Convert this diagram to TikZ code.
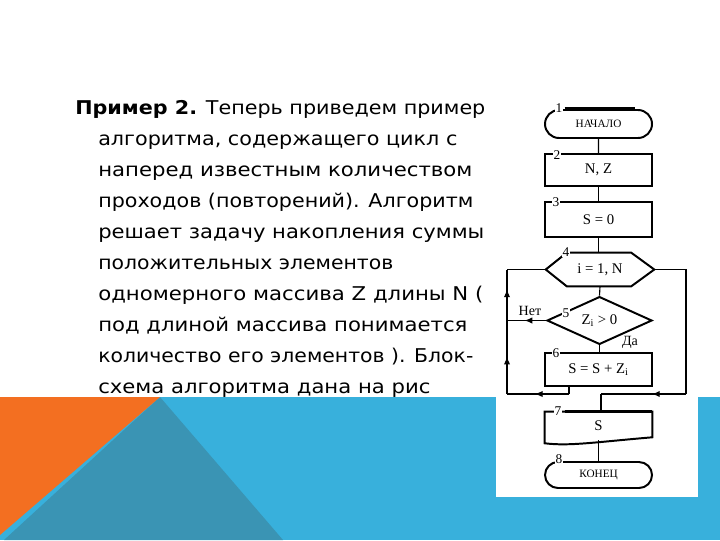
\documentclass[tikz,border=0pt]{standalone}
\usepackage{fontspec}
\usepackage{graphicx}
\setmainfont{DejaVu Sans}
\newfontfamily\fcfont{Liberation Serif}
\usetikzlibrary{shapes.geometric,shapes.misc,arrows.meta,decorations.markings,calc}
\definecolor{bandblue}{HTML}{38B0DC}
\definecolor{bandteal}{HTML}{3A94B4}
\definecolor{bandorange}{HTML}{F36F21}
\begin{document}
\begin{tikzpicture}[x=0.025cm,y=-0.025cm,
 txt/.style={anchor=base west,inner sep=0pt,font=\fontsize{13.5}{16}\selectfont},
 blk/.style={draw,line width=1.4pt,minimum width=107*0.025cm,inner sep=0pt,font=\fcfont\fontsize{10.5}{12}\selectfont},
 term/.style={blk,rounded rectangle,font=\fcfont\fontsize{8}{9}\selectfont},
 plain/.style={inner sep=0pt,font=\fcfont\fontsize{10.5}{12}\selectfont},
 num/.style={fill=white,inner sep=0.6pt,font=\fcfont\fontsize{9.5}{10}\selectfont},
 lbl/.style={inner sep=0pt,font=\fcfont\fontsize{10}{11}\selectfont},
 lnk/.style={line width=0.8pt},
 outl/.style={line width=1.4pt},
 arrtip/.tip={Latex[length=5.5pt,width=4.5pt]},
 midarr/.style={decoration={markings,mark=at position #1 with {\arrow{arrtip}}},postaction={decorate}},
]
\useasboundingbox (0,0) rectangle (720,540);
\fill[white] (0,0) rectangle (720,540);
\fill[bandblue] (0,397) rectangle (720,540);
\fill[bandteal] (160,397) -- (283,540) -- (4,540) -- cycle;
\fill[bandorange] (0,397) -- (160,397) -- (0,535) -- cycle;
\fill[white] (496,95) rectangle (698,497);

% text
\node[txt] (t1) at (75,114) {\resizebox{10.25cm}{\height}{\textbf{Пример 2.} Теперь приведем пример}};
\node[txt] (t2) at (98,145) {\resizebox{8.975cm}{\height}{алгоритма, содержащего цикл с}};
\node[txt] (t3) at (98,176) {\resizebox{9.35cm}{\height}{наперед известным количеством}};
\node[txt] (t4) at (98,207) {\resizebox{9.375cm}{\height}{проходов (повторений). Алгоритм}};
\node[txt] (t5) at (98,238) {\resizebox{9.65cm}{\height}{решает задачу накопления суммы}};
\node[txt] (t6) at (98,269) {\resizebox{7.375cm}{\height}{положительных элементов}};
\node[txt] (t7) at (98,300) {\resizebox{9.625cm}{\height}{одномерного массива Z длины N (}};
\node[txt] (t8) at (98,331) {\resizebox{9.225cm}{\height}{под длиной массива понимается}};
\node[txt] (t9) at (98,362) {\resizebox{9.375cm}{\height}{количество его элементов ). Блок-}};
\node[txt] (t10) at (98,393) {\resizebox{8.3cm}{\height}{схема алгоритма дана на рис}};

% flowchart blocks
\node[term,minimum height=28*0.025cm] (n1) at (598.5,124) {НАЧАЛО};
\draw[line width=2.2pt] ($(n1.north)+(-34,0)$) -- ($(n1.north)+(36,0)$);
\node[blk,minimum height=32*0.025cm] (n2) at (598.5,170) {N, Z};
\node[blk,minimum height=35*0.025cm] (n3) at (598.5,219.5) {S = 0};
\node[plain,minimum width=108*0.025cm,minimum height=33*0.025cm] (n4) at (600,269.5) {i = 1, N};
\draw[outl] (n4.west) -- ($(n4.north west)+(21,0)$) -- ($(n4.north east)+(-23,0)$) -- (n4.east) -- ($(n4.south east)+(-23,0)$) -- ($(n4.south west)+(21,0)$) -- cycle;
\node[blk,diamond,minimum width=105*0.025cm,minimum height=33*0.025cm] (n5) at (599.5,320.5) {Z\textsubscript{i} > 0};
\node[blk,minimum height=33*0.025cm] (n6) at (598.5,369.5) {S = S + Z\textsubscript{i}};
\node[plain,minimum width=107*0.025cm,minimum height=28*0.025cm] (n7) at (598.5,426) {S};
\draw[outl] (n7.north west) -- (n7.north east) -- ($(n7.south east)+(0,-3)$) .. controls ($(n7.south)+(-5,2)$) and ($(n7.south west)+(25,6)$) .. ($(n7.south west)+(0,3)$) -- cycle;
\draw[line width=2.2pt] ($(n7.north west)+(20,0)$) -- (n7.north east);
\node[term,minimum height=26*0.025cm] (n8) at (598.5,475) {КОНЕЦ};

% numbers
\node[num] (k1) at (559,108) {1};
\node[num] (k2) at (557,155) {2};
\node[num] (k3) at (556,202) {3};
\node[num] (k4) at (566,252) {4};
\node[num] (k5) at (566,313) {5};
\node[num] (k6) at (556,353) {6};
\node[num] (k7) at (558,411) {7};
\node[num] (k8) at (559,459) {8};

% connectors
\draw[lnk] (n1) -- (n2);
\draw[lnk] (n2) -- (n3);
\draw[lnk] (n3.south) -- (n3.south |- n4.north);
\draw[lnk] (n4.south) -- (n5.north);
\draw[lnk] (n5.south) -- (n5.south |- n6.north);
\node[lbl] (da) at (630,342) {Да};
\coordinate (jn) at (507,320.5);
\draw[lnk,midarr=0.55] (n5.west) -- (jn);
\node[lbl] (net) at (530,311) {Нет};
\coordinate (a1) at (569,394);
\coordinate (lb) at (507,394);
\coordinate (lt) at (507,269.5);
\draw[lnk] (n6.south -| a1) -- (a1);
\draw[lnk,midarr=0.55] (a1) -- (lb);
\draw[lnk,decoration={markings,mark=at position 0.3 with {\arrow{arrtip}},mark=at position 0.84 with {\arrow{arrtip}}},postaction={decorate}] (lb) -- (lt);
\draw[lnk] (lt) -- (n4.west);
\coordinate (r1) at (686,269.5);
\coordinate (r2) at (686,394);
\coordinate (r3) at (601,394);
\draw[lnk] (n4.east) -- (r1) -- (r2);
\draw[lnk,midarr=0.4] (r2) -- (r3);
\draw[lnk] (r3) -- (r3 |- n7.north);
\draw[lnk] (n7.south) -- (n7.south |- n8.north);
\end{tikzpicture}
\end{document}
